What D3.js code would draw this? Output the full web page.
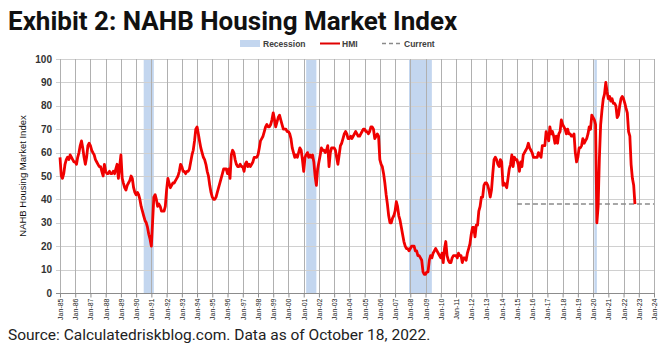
<!DOCTYPE html>
<html>
<head>
<meta charset="utf-8">
<script src="https://cdn.jsdelivr.net/npm/d3@7"></script>
<style>
  body { margin: 0; background: #fff; }
  svg { display: block; }
</style>
</head>
<body>
<div id="chart"></div>
<script>

// monthly HMI, Jan 1985 .. Oct 2022
var startYear = 1985;
var hmi = [
  58, 50, 49, 51, 55, 57, 58, 57, 59, 58, 57, 56,   // 1985
  56, 55, 58, 60, 63, 65, 62, 58, 55, 58, 63, 64,   // 1986
  63, 61, 60, 59, 57, 56, 55, 54, 54, 52, 50, 55,   // 1987
  52, 51, 51, 52, 51, 51, 52, 51, 53, 55, 49, 54,   // 1988
  59, 49, 47, 45, 44, 46, 47, 48, 50, 49, 45, 43,   // 1989
  42, 43, 42, 40, 37, 35, 33, 31, 30, 28, 25, 23,   // 1990
  20, 31, 41, 42, 40, 37, 38, 37, 35, 35, 35, 37,   // 1991
  44, 49, 47, 45, 46, 47, 47, 48, 49, 50, 52, 55,   // 1992
  54, 52, 52, 51, 52, 52, 53, 56, 59, 61, 65, 70,   // 1993
  71, 68, 65, 62, 60, 58, 57, 55, 52, 50, 46, 43,   // 1994
  41, 40, 40, 41, 43, 45, 47, 49, 51, 53, 53, 53,   // 1995
  51, 53, 49, 59, 61, 60, 57, 55, 54, 54, 55, 54,   // 1996
  54, 52, 55, 56, 54, 55, 54, 55, 56, 58, 58, 58,   // 1997
  59, 62, 65, 66, 67, 69, 71, 72, 71, 71, 72, 74,   // 1998
  77, 74, 71, 73, 75, 76, 74, 72, 70, 70, 70, 69,   // 1999
  69, 68, 66, 62, 60, 58, 59, 58, 60, 62, 61, 57,   // 2000
  52, 58, 59, 60, 58, 59, 58, 59, 56, 50, 46, 53,   // 2001
  56, 59, 62, 61, 61, 60, 61, 63, 54, 60, 62, 62,   // 2002
  62, 61, 58, 55, 59, 63, 64, 66, 68, 69, 68, 66,   // 2003
  66, 67, 66, 67, 68, 69, 68, 67, 67, 68, 69, 70,   // 2004
  70, 69, 69, 68, 69, 71, 71, 70, 66, 67, 68, 67,   // 2005
  57, 55, 54, 51, 47, 42, 38, 33, 30, 30, 32, 33,   // 2006
  35, 39, 37, 33, 31, 28, 25, 22, 20, 19, 19, 18,   // 2007
  19, 20, 20, 20, 18, 18, 16, 16, 15, 14, 9, 8,     // 2008
  8, 9, 9, 14, 16, 15, 17, 18, 19, 18, 17, 16,      // 2009
  15, 17, 13, 19, 22, 16, 14, 13, 13, 15, 16, 16,   // 2010
  16, 15, 17, 16, 16, 13, 15, 15, 14, 17, 19, 21,   // 2011
  25, 28, 28, 24, 29, 29, 35, 37, 41, 41, 46, 47,   // 2012
  47, 46, 44, 41, 44, 51, 57, 58, 57, 55, 54, 57,   // 2013
  56, 46, 47, 46, 45, 49, 53, 55, 59, 54, 58, 57,   // 2014
  57, 55, 52, 56, 54, 59, 60, 61, 62, 64, 62, 61,   // 2015
  60, 58, 58, 58, 58, 60, 59, 58, 63, 63, 63, 69,   // 2016
  67, 65, 71, 68, 69, 67, 64, 67, 64, 68, 69, 74,   // 2017
  72, 71, 70, 68, 70, 68, 68, 67, 67, 68, 60, 56,   // 2018
  58, 62, 62, 63, 66, 64, 65, 66, 68, 71, 70, 76,   // 2019
  75, 74, 72, 30, 37, 58, 72, 78, 83, 85, 90, 86,   // 2020
  83, 84, 82, 83, 81, 81, 80, 75, 76, 80, 83, 84,   // 2021
  83, 81, 79, 77, 69, 67, 55, 49, 46, 38            // 2022
];

var recessionStarts = ["1990-07", "2001-03", "2007-12", "2020-02"];
var recessionEnds   = ["1991-03", "2001-11", "2009-06", "2020-04"];

var currentValue = 38;
var currentFrom = "2015-01";
var currentTo = "2024-01";

var yTicks = [0, 10, 20, 30, 40, 50, 60, 70, 80, 90, 100];
var xTickYears = d3.range(1985, 2025);

var legendLabels = ["Recession", "HMI", "Current"];

var parseMonth = d3.timeParse("%Y-%m");

var width = 664, height = 354;
var svg = d3.select("#chart").append("svg")
  .attr("width", width).attr("height", height);

var x = d3.scaleTime()
  .domain([new Date(1985, 0, 1), new Date(2024, 0, 1)])
  .range([60, 654]);

var y = d3.scaleLinear()
  .domain([0, 100])
  .range([293, 59]);

// title
svg.append("text")
  .attr("x", 8).attr("y", 30)
  .attr("font-family", "Roboto, sans-serif")
  .attr("font-weight", "bold")
  .attr("font-size", 26)
  .attr("fill", "#111")
  .text("Exhibit 2: NAHB Housing Market Index");

// recession bands
svg.append("g").selectAll("rect")
  .data(recessionStarts)
  .enter().append("rect")
  .attr("x", function(d) { return x(parseMonth(d)); })
  .attr("width", function(d, i) { return x(parseMonth(recessionEnds[i])) - x(parseMonth(d)); })
  .attr("y", y(100))
  .attr("height", y(0) - y(100))
  .attr("fill", "#c3d6ef");

// horizontal grid
svg.append("g").selectAll("line")
  .data(yTicks.slice(1))
  .enter().append("line")
  .attr("x1", 56).attr("x2", 655)
  .attr("y1", function(d) { return Math.round(y(d)) + 0.5; })
  .attr("y2", function(d) { return Math.round(y(d)) + 0.5; })
  .attr("stroke", "#d0d0d0");

// vertical grid, one per year
svg.append("g").selectAll("line")
  .data(xTickYears)
  .enter().append("line")
  .attr("x1", function(d) { return Math.round(x(new Date(d, 0, 1))) + 0.5; })
  .attr("x2", function(d) { return Math.round(x(new Date(d, 0, 1))) + 0.5; })
  .attr("y1", y(100)).attr("y2", y(0))
  .attr("stroke", "#b0b0b0");

// x axis
var xAxis = d3.axisBottom(x)
  .tickValues(xTickYears.map(function(d) { return new Date(d, 0, 1); }))
  .tickSize(4)
  .tickFormat(d3.timeFormat("%b-%y"));

var gx = svg.append("g")
  .attr("transform", "translate(0," + (Math.round(y(0)) + 0.5) + ")")
  .call(xAxis);
gx.select(".domain").attr("stroke", "#8c8c8c").attr("d", "M56,0H655");
gx.selectAll(".tick line").attr("stroke", "#8c8c8c");
gx.selectAll(".tick text")
  .attr("font-family", "'Liberation Sans', Arial, sans-serif")
  .attr("font-size", 7)
  .attr("fill", "#222")
  .attr("text-anchor", "end")
  .attr("transform", "rotate(-90)")
  .attr("x", -5).attr("y", 0)
  .attr("dy", "0.35em");

// y tick labels
svg.append("g").selectAll("text")
  .data(yTicks)
  .enter().append("text")
  .attr("x", 52)
  .attr("y", function(d) { return y(d); })
  .attr("dy", "0.35em")
  .attr("text-anchor", "end")
  .attr("font-family", "'Liberation Sans', Arial, sans-serif")
  .attr("font-weight", "bold")
  .attr("font-size", 10)
  .attr("fill", "#333")
  .text(function(d) { return d; });

// y axis title
svg.append("text")
  .attr("transform", "translate(26," + y(50) + ") rotate(-90)")
  .attr("text-anchor", "middle")
  .attr("font-family", "'Liberation Sans Narrow', 'Arial Narrow', sans-serif")
  .attr("font-size", 9.5)
  .attr("fill", "#111")
  .text("NAHB Housing Market Index");

// current level
svg.append("line")
  .attr("x1", x(parseMonth(currentFrom)))
  .attr("x2", x(parseMonth(currentTo)))
  .attr("y1", y(currentValue)).attr("y2", y(currentValue))
  .attr("stroke", "#8a8a8a")
  .attr("stroke-width", 1.5)
  .attr("stroke-dasharray", "5,3");

// HMI line
var line = d3.line()
  .x(function(d, i) { return x(new Date(startYear, i, 1)); })
  .y(function(d) { return y(d); });

svg.append("path")
  .datum(hmi)
  .attr("d", line)
  .attr("fill", "none")
  .attr("stroke", "#f00000")
  .attr("stroke-width", 2.8)
  .attr("stroke-linejoin", "round");

// legend
var legend = svg.append("g")
  .attr("font-family", "'Liberation Sans', Arial, sans-serif")
  .attr("font-weight", "bold")
  .attr("font-size", 8.5)
  .attr("fill", "#404040");

legend.append("rect")
  .attr("x", 240).attr("y", 40).attr("width", 20).attr("height", 7)
  .attr("fill", "#c3d6ef");
legend.append("text").attr("x", 263).attr("y", 47).text(legendLabels[0]);

legend.append("line")
  .attr("x1", 320).attr("x2", 340).attr("y1", 43.5).attr("y2", 43.5)
  .attr("stroke", "#e00000").attr("stroke-width", 2);
legend.append("text").attr("x", 342).attr("y", 47).text(legendLabels[1]);

legend.append("line")
  .attr("x1", 382).attr("x2", 401).attr("y1", 43.5).attr("y2", 43.5)
  .attr("stroke", "#8a8a8a").attr("stroke-width", 1.5)
  .attr("stroke-dasharray", "4,3");
legend.append("text").attr("x", 404).attr("y", 47).text(legendLabels[2]);

// source note
svg.append("text")
  .attr("x", 8).attr("y", 340)
  .attr("font-family", "Roboto, sans-serif")
  .attr("font-size", 15.5)
  .attr("fill", "#222")
  .text("Source: Calculatedriskblog.com. Data as of October 18, 2022.");

</script>
</body>
</html>
